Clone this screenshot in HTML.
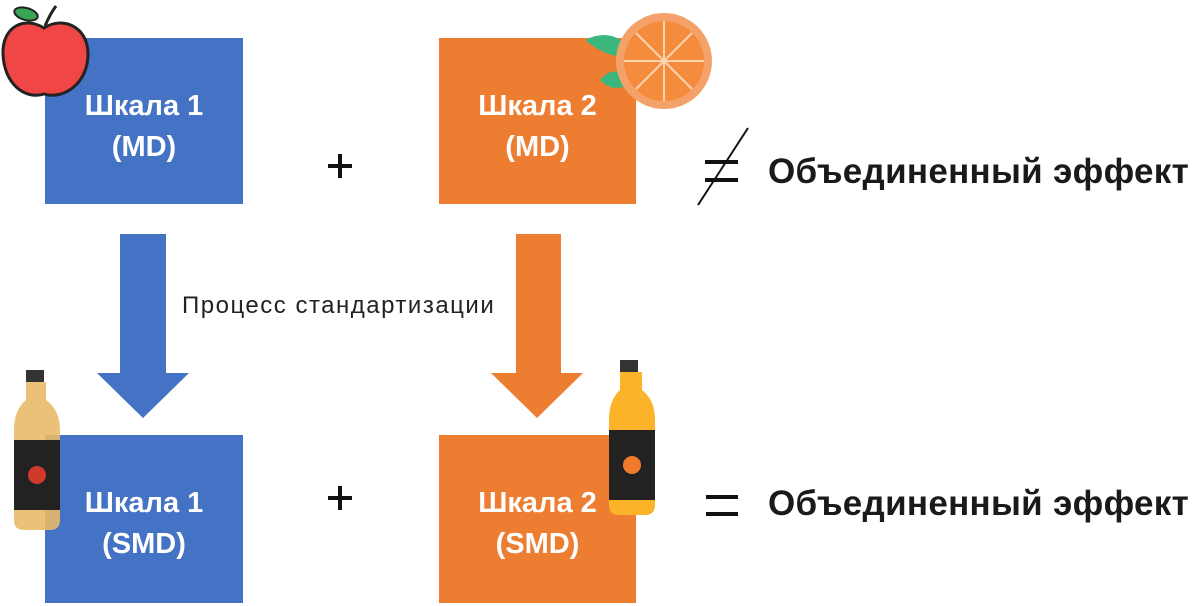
<!DOCTYPE html>
<html><head><meta charset="utf-8"><style>
body{margin:0;width:1200px;height:606px;background:#fff;position:relative;overflow:hidden;font-family:"Liberation Sans","DejaVu Sans",sans-serif}
.b{position:absolute;color:#fff;font-weight:bold;font-size:29px;text-align:center;line-height:41px;display:flex;flex-direction:column;justify-content:center}
.t{position:absolute;font-weight:bold;white-space:nowrap}
</style></head><body>
<div class="b" style="left:45px;top:38px;width:198px;height:166px;background:#4472C4"><div style="margin-top:12px">Шкала 1<br>(MD)</div></div>
<div class="b" style="left:439px;top:38px;width:197px;height:166px;background:#ED7D31"><div style="margin-top:12px">Шкала 2<br>(MD)</div></div>
<div class="b" style="left:45px;top:435px;width:198px;height:168px;background:#4472C4"><div style="margin-top:10px">Шкала 1<br>(SMD)</div></div>
<div class="b" style="left:439px;top:435px;width:197px;height:168px;background:#ED7D31"><div style="margin-top:10px">Шкала 2<br>(SMD)</div></div>
<svg width="1200" height="606" style="position:absolute;left:0;top:0">
<polygon points="120,234 166,234 166,373 189,373 143,418 97,373 120,373" fill="#4472C4"/>
<polygon points="516,234 561,234 561,373 583,373 537,418 491,373 516,373" fill="#ED7D31"/>
<ellipse cx="26" cy="14" rx="12" ry="6" fill="#3aa655" stroke="#222" stroke-width="2" transform="rotate(15 26 14)"/>
<path d="M45 26 Q50 14 56 6" stroke="#222" stroke-width="3" fill="none"/>
<path d="M44 28 C25 16 2 26 3 54 C4 84 25 100 44 94 C63 100 88 84 88 54 C88 26 62 16 44 28Z" fill="#f04646" stroke="#222" stroke-width="3"/>
<path d="M585 40 Q615 25 635 55 Q612 62 585 40Z" fill="#3bb77e"/>
<path d="M600 80 Q615 62 632 82 Q615 95 600 80Z" fill="#3bb77e"/>
<circle cx="664" cy="61" r="48" fill="#f4a26a"/>
<circle cx="664" cy="61" r="40" fill="#f58b3c"/>
<g stroke="#fbd3b0" stroke-width="2"><line x1="664" y1="21" x2="664" y2="101"/><line x1="624" y1="61" x2="704" y2="61"/><line x1="636" y1="33" x2="692" y2="89"/><line x1="692" y1="33" x2="636" y2="89"/></g>
<g><rect x="26" y="370" width="18" height="12" fill="#333"/><path d="M26 382 L26 400 Q14 410 14 430 L14 520 Q14 530 24 530 L50 530 Q60 530 60 520 L60 430 Q60 410 46 400 L46 382Z" fill="#e9b96a" opacity="0.9"/><rect x="14" y="440" width="46" height="70" fill="#222"/><circle cx="37" cy="475" r="9" fill="#d03a2a"/></g>
<g><rect x="620" y="360" width="18" height="12" fill="#333"/><path d="M620 372 L620 390 Q609 400 609 420 L609 505 Q609 515 619 515 L645 515 Q655 515 655 505 L655 420 Q655 400 642 390 L642 372Z" fill="#fbb32a"/><rect x="609" y="430" width="46" height="70" fill="#222"/><circle cx="632" cy="465" r="9" fill="#ee7a2a"/></g>
<g stroke="#111" stroke-width="4"><line x1="705" y1="162" x2="738" y2="162"/><line x1="705" y1="180" x2="738" y2="180"/></g>
<line x1="698" y1="205" x2="748" y2="128" stroke="#111" stroke-width="2"/>
<g stroke="#111" stroke-width="4"><line x1="706" y1="497" x2="738" y2="497"/><line x1="706" y1="514" x2="738" y2="514"/></g>
<g stroke="#111" stroke-width="4"><line x1="328" y1="166" x2="352" y2="166"/><line x1="340" y1="154" x2="340" y2="178"/><line x1="328" y1="498" x2="352" y2="498"/><line x1="340" y1="486" x2="340" y2="510"/></g>
</svg>
<div class="t" style="left:182px;top:292px;font-size:24px;font-weight:normal;color:#222;letter-spacing:1.5px">Процесс стандартизации</div>
<div class="t" style="left:768px;top:152px;font-size:35px;color:#1a1a1a;letter-spacing:0.3px">Объединенный эффект</div>
<div class="t" style="left:768px;top:484px;font-size:35px;color:#1a1a1a;letter-spacing:0.3px">Объединенный эффект</div>
</body></html>
